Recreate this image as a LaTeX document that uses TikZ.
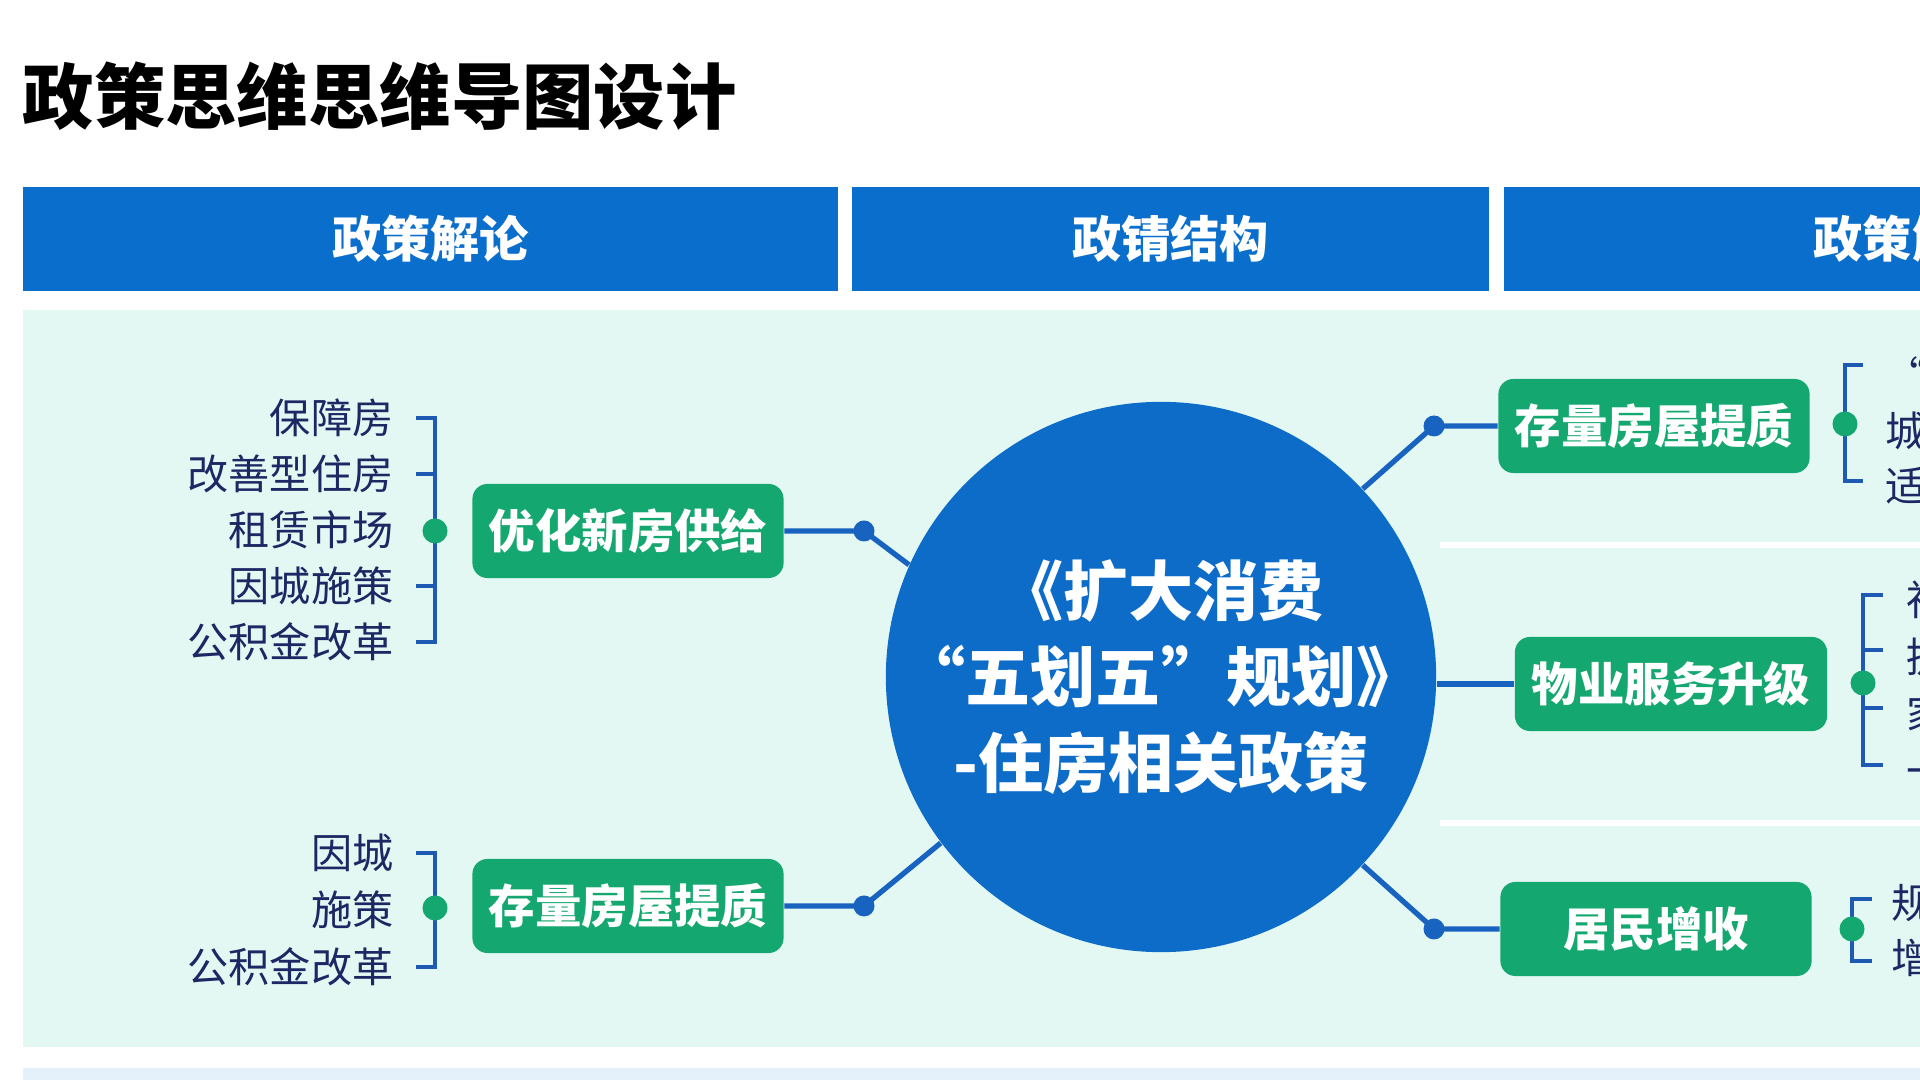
\documentclass[tikz,border=0pt]{standalone}
\usepackage{fontspec}
\setmainfont{Noto Sans CJK SC}
\definecolor{hblue}{RGB}{10,110,204}
\definecolor{hubblue}{RGB}{12,108,200}
\definecolor{connblue}{RGB}{24,98,192}
\definecolor{boxgreen}{RGB}{20,168,112}
\definecolor{brkblue}{RGB}{30,90,180}
\definecolor{navy}{RGB}{28,40,100}
\definecolor{mint}{RGB}{228,248,243}
\definecolor{stripblue}{RGB}{228,241,250}
\begin{document}
\begin{tikzpicture}[x=0.01cm,y=-0.01cm,
  hdr/.style={fill=hblue, minimum height=1.04cm, inner sep=0, text=white, font=\bfseries\fontsize{14}{16}\selectfont},
  gbox/.style={fill=boxgreen, rounded corners=0.15cm, minimum width=3.11cm, minimum height=0.94cm, inner sep=0, text=white, font=\bfseries\fontsize{13.2}{15}\selectfont},
  conn/.style={draw=connblue, line width=1.5pt},
  bdot/.style={circle, fill=connblue, minimum size=0.21cm, inner sep=0},
  gdot/.style={circle, fill=boxgreen, minimum size=0.25cm, inner sep=0},
  brk/.style={draw=brkblue, line width=0.9pt},
  litem/.style={anchor=east, inner sep=0, text=navy, font=\fontsize{11.7}{13}\selectfont},
  ritem/.style={anchor=west, inner sep=0, text=navy, font=\fontsize{11.7}{13}\selectfont},
  sep/.style={draw=white, line width=1.6pt}
]
\path[use as bounding box] (0,0) rectangle (1920,1080);
\clip (0,0) rectangle (1920,1080);
\fill[white] (0,0) rectangle (1920,1080);

% title
\node[anchor=west, inner sep=0, font=\bfseries\fontsize{20.3}{24}\selectfont] (title) at (22,96) {政策思维思维导图设计};

% header bars
\node[hdr, minimum width=8.15cm] (h1) at (430.5,239) {政策解论};
\node[hdr, minimum width=6.37cm] (h2) at (1170.5,239) {政锖结构};
\node[hdr, minimum width=8.16cm] (h3) at (1912,239) {政策解论};

% panel
\fill[mint] (23,310) rectangle (1940,1047);
\fill[stripblue] (23,1068) rectangle (1940,1090);
\draw[sep] (1440,545) -- (1940,545);
\draw[sep] (1440,823) -- (1940,823);

% hub
\node[circle, fill=hubblue, minimum size=5.5cm, inner sep=0] (hub) at (1161,677) {};
\node[text=white, align=center, inner sep=0,
      font=\bfseries\fontsize{18.5}{24.5}\selectfont] (hubtext) at (hub.center)
      {《扩大消费\\“五划五”规划》\\-住房相关政策};

% green boxes
\node[gbox] (b1) at (628,531) {优化新房供给};
\node[gbox] (b2) at (628,906) {存量房屋提质};
\node[gbox] (b3) at (1654,426) {存量房屋提质};
\node[gbox, minimum width=3.12cm] (b4) at (1671,684) {物业服务升级};
\node[gbox] (b5) at (1656,929) {居民增收};

% connectors
\node[bdot] (d1) at (864,531) {};
\node[bdot] (d2) at (864,906) {};
\node[bdot] (d3) at (1434,426) {};
\node[bdot] (d5) at (1434,929) {};
\draw[conn] (b1.east) -- (d1.center) -- (hub.156);
\draw[conn] (b2.east) -- (d2.center) -- (hub.217);
\draw[conn] (b3.west) -- (d3.center) -- (hub.43.5);
\draw[conn] (b4.west) -- (hub.east |- b4.west);
\draw[conn] (b5.west) -- (d5.center) -- (hub.-43.5);

% left top items
\node[litem] (l1) at (394,418) {保障房};
\node[litem] (l2) at (394,474) {改善型住房};
\node[litem] (l3) at (394,530) {租赁市场};
\node[litem] (l4) at (394,586) {因城施策};
\node[litem] (l5) at (394,642) {公积金改革};
\draw[brk] (416,418) -- (435,418) -- (435,642) -- (416,642);
\draw[brk] (416,474) -- (435,474);
\draw[brk] (416,586) -- (435,586);
\node[gdot] (g1) at (435,531) {};

% left bottom items
\node[litem] (m1) at (394,853) {因城};
\node[litem] (m2) at (394,910) {施策};
\node[litem] (m3) at (394,967) {公积金改革};
\draw[brk] (416,853) -- (435,853) -- (435,967) -- (416,967);
\node[gdot] (g2) at (435,908) {};

% right top items
\draw[brk] (1863,365) -- (1845,365) -- (1845,481) -- (1863,481);
\node[gdot] (g3) at (1845,424) {};
\node[ritem] (r1) at (1885,376) {“城中村”改造};
\node[ritem] (r2) at (1885,431) {城市更新};
\node[ritem] (r3) at (1885,486) {适老化改造};

% right middle items
\draw[brk] (1883,595) -- (1863,595) -- (1863,765) -- (1883,765);
\draw[brk] (1863,650) -- (1883,650);
\draw[brk] (1863,708) -- (1883,708);
\node[gdot] (g4) at (1863,683) {};
\node[ritem] (s1) at (1906,600) {社区服务};
\node[ritem] (s2) at (1906,657) {提升服务质量};
\node[ritem] (s3) at (1906,714) {家政服务};
\node[ritem] (s4) at (1906,771) {一刻钟生活圈};

% right bottom items
\draw[brk] (1872,899) -- (1852,899) -- (1852,961) -- (1872,961);
\node[gdot] (g5) at (1852,929) {};
\node[ritem] (t1) at (1891,903) {规范收入分配};
\node[ritem] (t2) at (1891,958) {增加财产性收入};
\end{tikzpicture}
\end{document}
